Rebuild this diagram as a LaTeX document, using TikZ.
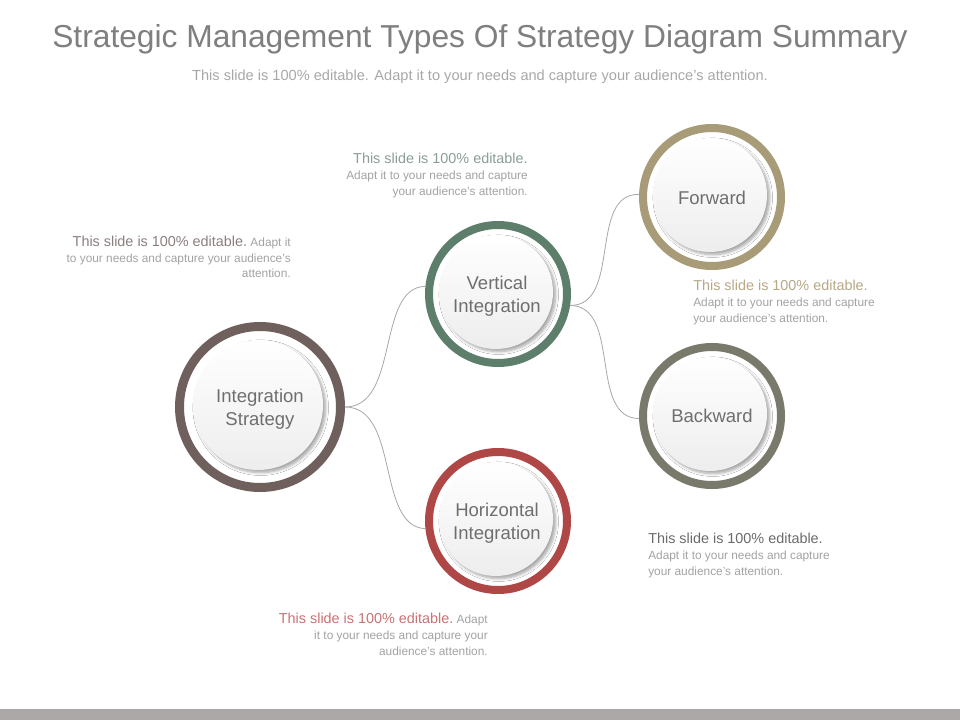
\documentclass[tikz,border=0pt]{standalone}
\usepackage{fontspec}
\setmainfont{Liberation Sans}
\usetikzlibrary{shadows.blur}
\definecolor{titlec}{HTML}{7F7F7F}
\definecolor{subc}{HTML}{A8A8A8}
\definecolor{smallc}{HTML}{A3A3A3}
\definecolor{labelc}{HTML}{6E6E6E}
\definecolor{barc}{HTML}{ADA8A8}
\definecolor{connc}{HTML}{A8A8A8}
\definecolor{ringis}{HTML}{6F605D}
\definecolor{ringv}{HTML}{5E7E6C}
\definecolor{ringh}{HTML}{B04747}
\definecolor{ringf}{HTML}{A89B78}
\definecolor{ringb}{HTML}{7A7A6C}
\definecolor{hdtm}{HTML}{8A9E96}
\definecolor{hdl}{HTML}{8C7F7F}
\definecolor{hdf}{HTML}{B8A888}
\definecolor{hdb}{HTML}{6A6A6A}
\definecolor{hdh}{HTML}{C77373}
\newcommand\bigt{\fontsize{10.8pt}{11.6pt}\selectfont}
\newcommand\smallt{\fontsize{8.9pt}{11.6pt}\selectfont\color{smallc}}
\begin{document}
\begin{tikzpicture}[x=0.75pt,y=-0.75pt,
  ring/.style={circle,inner sep=0pt,draw=#1,line width=6pt,minimum size=103.5pt,fill=white},
  bigring/.style={circle,inner sep=0pt,draw=#1,line width=6.75pt,minimum size=120.75pt,fill=white},
  disc/.style={circle,inner sep=0pt,minimum size=85.5pt,top color=white,bottom color=black!7,
    blur shadow={shadow xshift=2pt,shadow yshift=-2pt,shadow blur steps=6,shadow opacity=35}},
  bigdisc/.style={disc,minimum size=97.5pt},
  lbl/.style={font=\fontsize{13.9pt}{17.2pt}\selectfont,text=labelc,align=center,inner sep=0pt},
  conn/.style={draw=connc,line width=0.6pt},
  blk/.style={inner sep=0pt}]
\useasboundingbox (0,0) rectangle (960,720);
\fill[white] (0,0) rectangle (960,720);
\fill[barc] (0,709) rectangle (960,720);

\node[anchor=base,text=titlec,font=\fontsize{23.8pt}{26pt}\selectfont] (title) at (480,48)
  {Strategic Management Types Of Strategy Diagram Summary};
\node[anchor=base,text=subc,font=\fontsize{10.95pt}{12pt}\selectfont] (sub) at (480,81)
  {This slide is 100\% editable. Adapt it to your needs and capture your audience's attention.};

% rings
\node[bigring=ringis] (isr) at (260,407) {};
\node[ring=ringv] (vr) at (498,294) {};
\node[ring=ringh] (hr) at (498,521) {};
\node[ring=ringf] (fr) at (712,197) {};
\node[ring=ringb] (br) at (712,416) {};

% discs
\node[bigdisc] (isd) at (258,405) {};
\node[disc] (vd) at (496,292) {};
\node[disc] (hd) at (496,519) {};
\node[disc] (fd) at (710,195) {};
\node[disc] (bd) at (710,414) {};

% labels
\node[lbl] (is) at (260,409) {Integration\\Strategy};
\node[lbl] (v) at (497,296) {Vertical\\Integration};
\node[lbl] (h) at (497,523) {Horizontal\\Integration};
\node[lbl] (f) at (712,198) {Forward};
\node[lbl] (b) at (712,416) {Backward};

% connectors
\draw[conn] (isr.east) .. controls (400,407) and (376,287) .. (vr.174);
\draw[conn] (isr.east) .. controls (400,407) and (376,527) .. (hr.186);
\draw[conn] (vr.351) .. controls (622,306) and (588,193) .. (fr.178);
\draw[conn] (vr.351) .. controls (622,306) and (588,418) .. (br.182);

% text blocks (base anchor = baseline of last line)
\node[blk,anchor=base east,align=right] (ttm) at (528,196)
  {{\bigt\color{hdtm}This slide is 100\% editable.}\\
   {\smallt Adapt it to your needs and capture}\\
   {\smallt your audience's attention.}};
\node[blk,anchor=base east,align=right] (tl) at (291,278)
  {{\bigt\color{hdl}This slide is 100\% editable.}{\smallt\ Adapt it}\\
   {\smallt to your needs and capture your audience's}\\
   {\smallt attention.}};
\node[blk,anchor=base west,align=left] (tf) at (693,322)
  {{\bigt\color{hdf}This slide is 100\% editable.}\\
   {\smallt Adapt it to your needs and capture}\\
   {\smallt your audience's attention.}};
\node[blk,anchor=base west,align=left] (tb) at (648,575)
  {{\bigt\color{hdb}This slide is 100\% editable.}\\
   {\smallt Adapt it to your needs and capture}\\
   {\smallt your audience's attention.}};
\node[blk,anchor=base east,align=right] (th) at (488,655)
  {{\bigt\color{hdh}This slide is 100\% editable.}{\smallt\ Adapt}\\
   {\smallt it to your needs and capture your}\\
   {\smallt audience's attention.}};
\end{tikzpicture}
\end{document}
